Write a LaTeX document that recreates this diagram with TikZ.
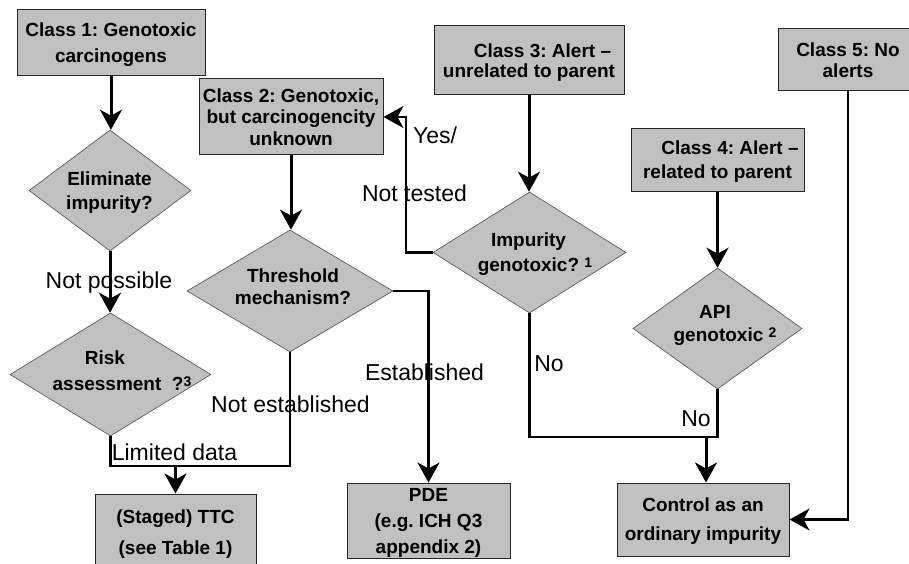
\documentclass[tikz,border=0pt]{standalone}
\usepackage{fontspec}
\setmainfont{Liberation Sans}
\usetikzlibrary{shapes.geometric,arrows.meta}
\newcommand{\fsz}[1]{\fontsize{19}{#1}\selectfont\bfseries}
\newcommand{\supr}[1]{\raisebox{4pt}{\fontsize{14}{14}\selectfont #1}}
\definecolor{boxgray}{HTML}{C0C0C0}
\frenchspacing
\begin{document}
\begin{tikzpicture}[x=1pt,y=-1pt,
  box/.style={rectangle, fill=boxgray, draw=black!85, line width=1pt, inner sep=0pt, align=center, text depth=0pt},
  dia/.style={diamond, fill=boxgray, draw=black!70, line width=0.6pt, inner sep=0pt},
  dtext/.style={align=center, inner sep=0pt, text depth=0pt},
  lab/.style={font=\fontsize{23}{27}\selectfont, inner sep=0pt, text height=16.5pt, text depth=0pt},
  tip/.style={-{Stealth[length=20pt,width=22pt,inset=6pt]}},
  arr/.style={line width=3pt, tip},
  elb/.style={line width=2.2pt},
  elbarr/.style={line width=2.2pt, tip}]
\fill[white] (0,0) rectangle (909,564);
\useasboundingbox (0,0) rectangle (909,564);

% boxes
\node[box, minimum width=188pt, minimum height=66pt, font=\fsz{26}] (c1) at (111,43) {Class 1: Genotoxic\\carcinogens};
\node[box, minimum width=184pt, minimum height=76pt, font=\fsz{21.5}] (c2) at (291,117) {Class 2: Genotoxic,\\but carcinogencity\\unknown};
\node[box, minimum width=190pt, minimum height=69pt, font=\fsz{20.5}] (c3) at (529,60.5) {\hspace*{27pt}Class 3: Alert –\\unrelated to parent};
\node[box, minimum width=173pt, minimum height=62pt, font=\fsz{24}] (c4) at (717.5,160) {\hspace*{25pt}Class 4: Alert –\\related to parent};
\node[box, minimum width=140pt, minimum height=62pt, font=\fsz{20.5}] (c5) at (848,60) {Class 5: No\\alerts};
\node[box, minimum width=161pt, minimum height=76pt, font=\fsz{31}] (ttc) at (175.5,532) {(Staged) TTC\\(see Table 1)};
\node[box, minimum width=163pt, minimum height=75pt, font=\fsz{26}] (pde) at (428.5,520.5) {PDE\\(e.g. ICH Q3\\appendix 2)};
\node[box, minimum width=172pt, minimum height=73pt, font=\fsz{29}] (ctrl) at (703,519.5) {Control as an\\ordinary impurity};

% diamonds
\node[dia, minimum width=162pt, minimum height=121pt] (elim) at (110,190.5) {};
\node[dtext, font=\fsz{24}] (elimt) at (109.5,191) {Eliminate\\impurity?};
\node[dia, minimum width=201pt, minimum height=123pt] (risk) at (110.5,374.5) {};
\node[dtext, font=\fsz{26}] (riskt) at (122,371) {Risk\hspace*{34pt}\\assessment\ \ ?\supr{3}};
\node[dia, minimum width=206pt, minimum height=122pt] (thr) at (290,291) {};
\node[dtext, font=\fsz{22}] (thrt) at (293,287) {Threshold\\mechanism?};
\node[dia, minimum width=193pt, minimum height=121pt] (imp) at (529.5,252.5) {};
\node[dtext, font=\fsz{25}] (impt) at (535,252.5) {Impurity\hspace*{13pt}\\genotoxic?~\supr{1}};
\node[dia, minimum width=169pt, minimum height=121pt] (api) at (717.5,328.5) {};
\node[dtext, font=\fsz{23}] (apit) at (725,323.5) {API\hspace*{20pt}\\genotoxic~\supr{2}};

% helper coordinates
\coordinate (h1) at (0,466);
\coordinate (h2) at (0,437);
\coordinate (v1) at (406,0);
\coordinate (j2) at (706,437);

% connectors
\draw[arr] (c1.south) -- (c1.south |- elim.north);
\draw[arr] (elim.south) -- (elim.south |- risk.north);
\draw[elb] (risk.south) -- (risk.south |- h1) -- (thr.south |- h1) -- (thr.south);
\draw[arr] (ttc.north |- h1) -- (ttc.north);
\draw[arr] (c2.south) -- (c2.south |- thr.north);
\draw[elbarr] (thr.east) -- (pde.north |- thr.east) -- (pde.north);
\draw[arr] (c3.south) -- (c3.south |- imp.north);
\draw[elbarr] (imp.west) -- (imp.west -| v1) -- (v1 |- c2.east) -- (c2.east);
\draw[elb] (imp.south) -- (imp.south |- h2) -- (api.south |- h2) -- (api.south);
\draw[arr] (j2) -- (j2 |- ctrl.north);
\draw[arr] (c4.south) -- (c4.south |- api.north);
\draw[elbarr] (c5.south) -- (c5.south |- ctrl.east) -- (ctrl.east);

% labels
\node[lab] (lnp) at (109,280) {Not possible};
\node[lab] (lld) at (174.5,452) {Limited data};
\node[lab] (lne) at (290.5,404) {Not established};
\node[lab] (les) at (424.5,372) {Established};
\node[lab, anchor=west] (lyes) at (413,135) {Yes/};
\node[lab] (lnt) at (414.5,193) {Not tested};
\node[lab] (lno1) at (549,363) {No};
\node[lab] (lno2) at (696,418) {No};
\end{tikzpicture}
\end{document}
